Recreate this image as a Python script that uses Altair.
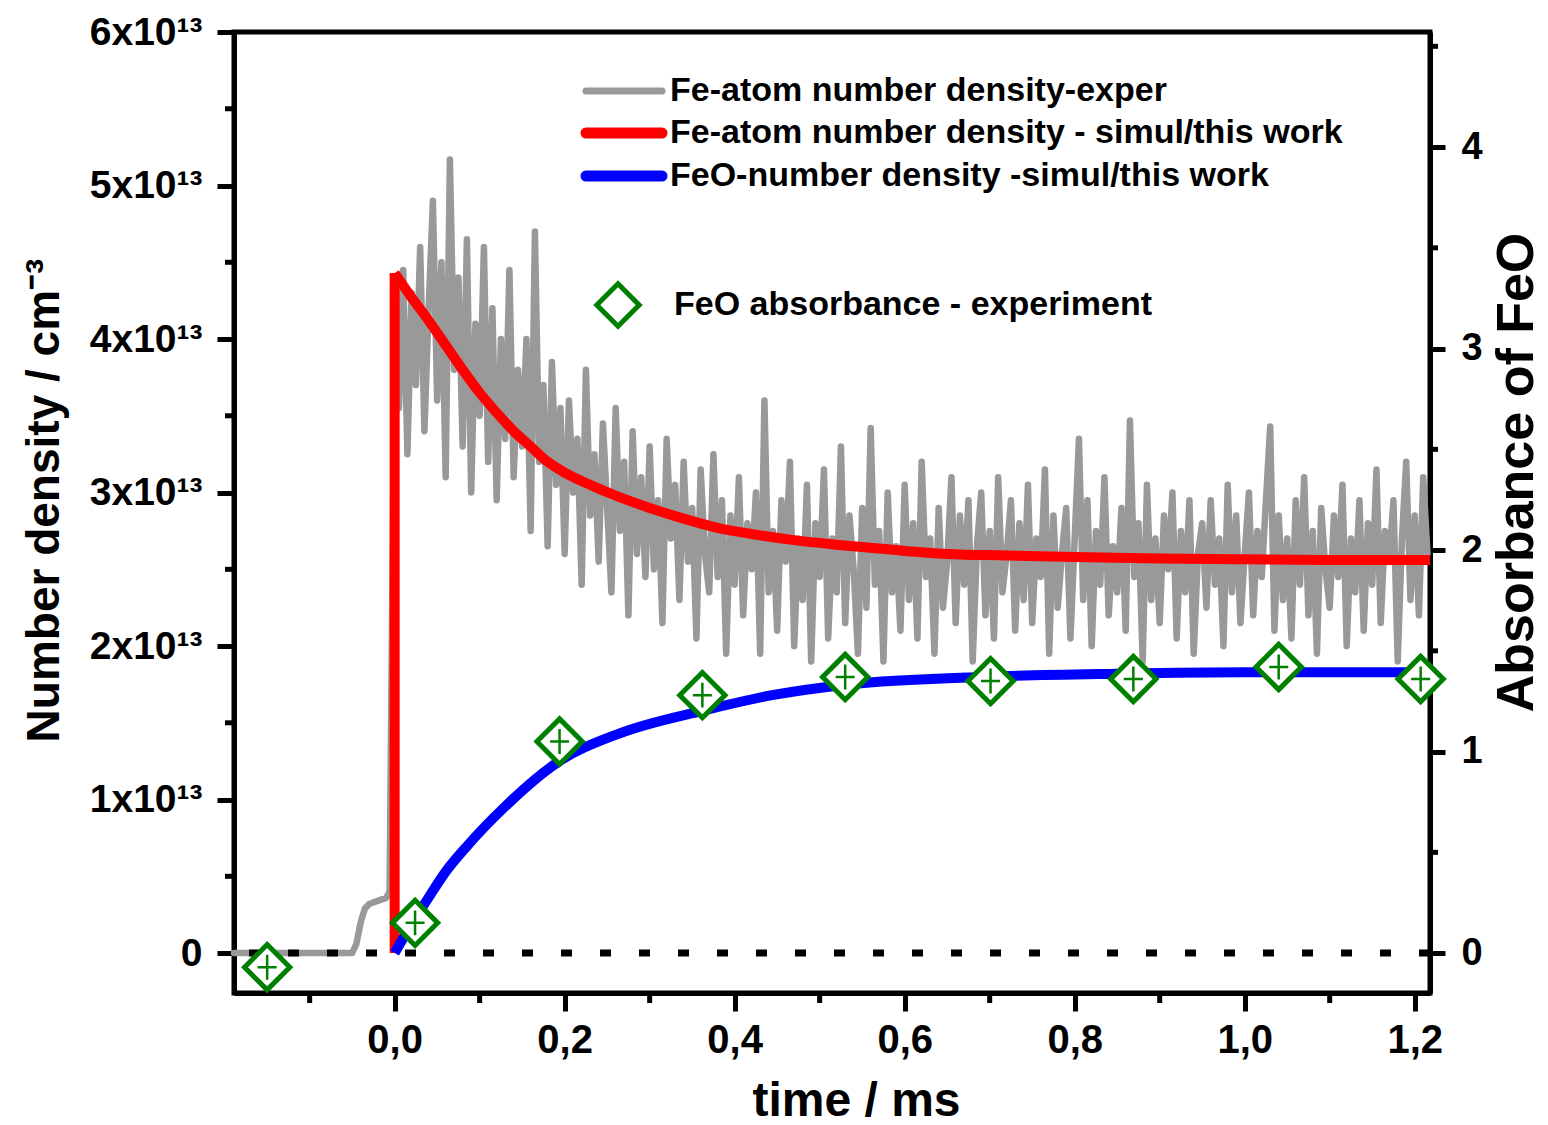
import altair as alt
import pandas as pd

# ---------------- data (number densities in units of 1e13 cm^-3, time in ms) ----------------
# Fe-atom number density, experiment: baseline / pre-trigger part
fe_exp_pre_t = [-0.189, -0.050, -0.045, -0.040, -0.035, -0.030, -0.020, -0.010, -0.006]
fe_exp_pre_v = [0.0, 0.0, 0.06, 0.20, 0.29, 0.32, 0.34, 0.36, 0.40]
# Fe-atom number density, experiment: noisy trace sampled every 5 us from t = 0
fe_exp_t0 = 0.0
fe_exp_dt = 0.005
fe_exp_noise = [
    4.05, 3.55, 4.45, 3.25, 4.30, 3.70, 4.60, 3.40, 4.20, 4.90,
    3.60, 4.50, 3.10, 5.17, 3.80, 4.40, 3.30, 4.65, 3.00, 4.10,
    3.50, 4.60, 3.20, 4.20, 2.95, 4.00, 3.35, 4.45, 3.10, 3.80,
    3.30, 4.00, 2.75, 4.70, 3.20, 3.70, 2.65, 3.85, 3.05, 3.55,
    2.60, 3.60, 3.00, 3.35, 2.40, 3.80, 2.85, 3.25, 2.55, 3.45,
    2.90, 2.35, 3.55, 2.75, 3.20, 2.20, 3.40, 2.60, 3.10, 2.45,
    3.30, 2.50, 2.95, 2.15, 3.35, 2.70, 3.05, 2.30, 3.20, 2.55,
    2.90, 2.05, 3.15, 2.60, 2.35, 3.25, 2.45, 2.95, 1.95, 2.85,
    2.40, 3.10, 2.20, 2.80, 2.50, 3.00, 1.95, 3.60, 2.35, 2.75,
    2.10, 2.95, 2.55, 3.20, 2.00, 2.70, 2.30, 3.05, 1.90, 2.80,
    2.45, 3.15, 2.05, 2.70, 2.35, 3.30, 2.15, 2.85, 2.50, 1.95,
    2.90, 2.25, 3.42, 2.40, 2.75, 1.90, 3.00, 2.35, 2.65, 2.10,
    3.05, 2.30, 2.80, 2.05, 3.20, 2.45, 2.70, 1.95, 2.90, 2.25,
    2.55, 3.10, 2.15, 2.85, 2.40, 2.95, 1.90, 2.65, 3.00, 2.20,
    2.75, 2.05, 3.10, 2.35, 2.60, 2.95, 2.10, 2.80, 2.30, 3.05,
    2.15, 2.70, 2.45, 3.15, 1.95, 2.85, 2.25, 2.60, 2.90, 2.05,
    2.70, 3.35, 2.30, 2.95, 2.00, 2.75, 2.40, 3.10, 2.20, 2.65,
    2.35, 2.90, 2.10, 3.47, 2.45, 2.80, 1.90, 3.05, 2.30, 2.70,
    2.15, 2.85, 2.50, 3.00, 2.05, 2.75, 2.35, 2.95, 1.95, 2.60,
    2.80, 2.25, 2.95, 2.40, 2.70, 2.00, 3.05, 2.35, 2.85, 2.15,
    2.60, 3.00, 2.20, 2.75, 2.45, 2.95, 3.43, 2.10, 2.85, 2.30,
    2.70, 2.05, 2.95, 2.40, 3.10, 2.20, 2.75, 1.95, 2.90, 2.50,
    2.25, 2.85, 2.45, 3.05, 2.00, 2.70, 2.35, 2.95, 2.10, 2.80,
    2.40, 3.15, 2.15, 2.75, 2.55, 2.95, 1.90, 2.70, 3.20, 2.30,
    2.85, 2.20, 3.10, 2.60,
]

# Fe-atom number density, simulation (first point = value before the jump at t = 0)
fe_sim_t = [0.0, 0.0, 0.02, 0.04, 0.06, 0.08, 0.10, 0.12, 0.14, 0.16, 0.18, 0.20,
            0.23, 0.26, 0.30, 0.34, 0.38, 0.42, 0.47, 0.52, 0.58, 0.65, 0.72,
            0.80, 0.90, 1.00, 1.10, 1.218]
fe_sim_v = [0.0, 4.43, 4.27, 4.12, 3.96, 3.80, 3.65, 3.52, 3.40, 3.30, 3.20, 3.13,
            3.05, 2.98, 2.90, 2.83, 2.77, 2.73, 2.69, 2.66, 2.63, 2.60, 2.59,
            2.58, 2.57, 2.565, 2.56, 2.56]

# FeO number density, simulation
feo_sim_t = [0.0, 0.02, 0.038, 0.06, 0.084, 0.129, 0.191, 0.264, 0.363, 0.444,
             0.534, 0.696, 0.85, 1.00, 1.218]
feo_sim_v = [0.0, 0.19, 0.345, 0.53, 0.69, 0.95, 1.24, 1.43, 1.58, 1.68,
             1.75, 1.80, 1.82, 1.83, 1.83]

# FeO absorbance, experiment (right axis)
feo_abs_t = [-0.150, 0.024, 0.194, 0.362, 0.530, 0.701, 0.869, 1.040, 1.207]
feo_abs_v = [-0.07, 0.15, 1.05, 1.28, 1.37, 1.35, 1.36, 1.42, 1.36]

# axis ticks
x_major = [0.0, 0.2, 0.4, 0.6, 0.8, 1.0, 1.2]
x_minor = [-0.1, 0.1, 0.3, 0.5, 0.7, 0.9, 1.1]
y_left_major = [0, 1, 2, 3, 4, 5, 6]
y_left_minor = [0.5, 1.5, 2.5, 3.5, 4.5, 5.5]
y_right_major = [0, 1, 2, 3, 4]
y_right_minor = [0.5, 1.5, 2.5, 3.5, 4.5]

# legend
legend_line_labels = ["Fe-atom number density-exper",
                      "Fe-atom number density - simul/this work",
                      "FeO-number density -simul/this work"]
legend_marker_label = "FeO absorbance - experiment"

# ---------------- styles ----------------
FONT = "Liberation Sans, Arial, sans-serif"
GRAY, RED, BLUE, GREEN = "#999999", "#ff0000", "#0000ff", "#008000"
W, H = 1196, 961

gray_t = fe_exp_pre_t + [round(fe_exp_t0 + i * fe_exp_dt, 4) for i in range(len(fe_exp_noise))]
gray_v = fe_exp_pre_v + fe_exp_noise
gray_df = pd.DataFrame({"t": gray_t, "v": gray_v, "i": list(range(len(gray_t)))})
red_jump_df = pd.DataFrame({"t": [fe_sim_t[0]], "v": [fe_sim_v[0]], "v1": [fe_sim_v[1]]})
red_df = pd.DataFrame({"t": fe_sim_t[1:], "v": fe_sim_v[1:]})
blue_df = pd.DataFrame({"t": feo_sim_t, "v": feo_sim_v})
abs_df = pd.DataFrame({"t": feo_abs_t, "a": feo_abs_v})
zero_df = pd.DataFrame({"v": [0.0]})

x_scale = alt.Scale(domain=[-0.189, 1.218], nice=False, zero=False)
yl_scale = alt.Scale(domain=[-0.26, 6.0], nice=False, zero=False)
yr_scale = alt.Scale(domain=[-0.198, 4.571], nice=False, zero=False)

x_axis = alt.Axis(
    values=x_major,
    labelExpr="replace(format(datum.value, '.1f'), '.', ',')",
    title="time / ms", titleFontSize=48, titleX=622, titleY=122,
    titleAlign="center", titleBaseline="alphabetic",
    labelFontSize=40, labelPadding=9, tickSize=18,
    labelFlush=False, labelOverlap=False, grid=False,
)
yl_axis = alt.Axis(
    orient="left", values=y_left_major,
    labelExpr="datum.value == 0 ? '0' : format(datum.value, 'd') + 'x10\u00b9\u00b3'",
    title="Number density / cm\u207b\u00b3", titleFontSize=46, titleX=-190, titleY=468,
    titleAngle=270, titleAlign="center", titleBaseline="middle",
    labelFontSize=39, labelPadding=15, tickSize=17,
    labelFlush=False, labelOverlap=False, grid=False,
)
yr_axis = alt.Axis(
    orient="right", values=y_right_major,
    labelExpr="format(datum.value, 'd')",
    title="Absorbance of FeO", titleFontSize=52, titleX=86, titleY=440,
    titleAngle=270, titleAlign="center", titleBaseline="middle",
    labelFontSize=38, labelPadding=16, tickSize=15,
    labelFlush=False, labelOverlap=False, grid=False,
)

X = lambda f: alt.X(f, scale=x_scale, axis=x_axis)
YL = lambda f: alt.Y(f, scale=yl_scale, axis=yl_axis)
YR = lambda f: alt.Y(f, scale=yr_scale, axis=yr_axis)

gray = alt.Chart(gray_df).mark_line(color=GRAY, strokeWidth=6.5, strokeJoin="round", strokeCap="round").encode(
    x=X("t:Q"), y=YL("v:Q"), order="i:Q",
)
red_jump = alt.Chart(red_jump_df).mark_rule(color=RED, strokeWidth=10).encode(
    x=X("t:Q"), y=YL("v:Q"), y2="v1:Q",
)
red = alt.Chart(red_df).mark_line(color=RED, strokeWidth=10, strokeJoin="round", interpolate="monotone").encode(
    x=X("t:Q"), y=YL("v:Q"),
)
blue = alt.Chart(blue_df).mark_line(color=BLUE, strokeWidth=10, strokeJoin="round", interpolate="monotone").encode(
    x=X("t:Q"), y=YL("v:Q"),
)
zero = alt.Chart(zero_df).mark_rule(color="black", strokeWidth=7, strokeDash=[11, 28]).encode(
    y=YL("v:Q"),
)
# minor ticks (left and bottom)
yl_minor_ticks = alt.Chart(pd.DataFrame({"v": y_left_minor})).mark_rule(color="black", strokeWidth=5).encode(
    y=YL("v:Q"), x=alt.value(-9), x2=alt.value(0),
)
x_minor_ticks = alt.Chart(pd.DataFrame({"t": x_minor})).mark_rule(color="black", strokeWidth=5).encode(
    x=X("t:Q"), y=alt.value(H), y2=alt.value(H + 10),
)

markers = alt.Chart(abs_df).mark_point(shape="diamond", size=2050, filled=True, fill="white",
                                       stroke=GREEN, strokeWidth=5, opacity=1).encode(
    x=X("t:Q"), y=YR("a:Q"),
)
crosses = alt.Chart(abs_df).mark_point(shape="M0,-0.55L0,0.55M-0.42,0L0.42,0", size=2050, filled=False,
                                       stroke=GREEN, strokeWidth=2.5, opacity=1).encode(
    x=X("t:Q"), y=YR("a:Q"),
)
yr_minor_ticks = alt.Chart(pd.DataFrame({"a": y_right_minor})).mark_rule(color="black", strokeWidth=5).encode(
    y=YR("a:Q"), x=alt.value(W), x2=alt.value(W + 8),
)

left = alt.layer(gray, red_jump, red, blue, zero, yl_minor_ticks, x_minor_ticks)
right = alt.layer(markers, crosses, yr_minor_ticks)

# manual legend
legend_layers = []
leg_y = [59, 101, 144]
leg_colors = [GRAY, RED, BLUE]
leg_widths = [7, 11, 11]
for lab, yy, col, w in zip(legend_line_labels, leg_y, leg_colors, leg_widths):
    d = pd.DataFrame({"label": [lab]})
    legend_layers.append(
        alt.Chart(d).mark_rule(color=col, strokeWidth=w, strokeCap="round").encode(
            x=alt.value(352), x2=alt.value(428), y=alt.value(yy))
    )
    legend_layers.append(
        alt.Chart(d).mark_text(align="left", baseline="middle", fontSize=34, fontWeight="bold",
                               font=FONT, color="black").encode(
            x=alt.value(436), y=alt.value(yy), text="label:N")
    )
dm = pd.DataFrame({"label": [legend_marker_label]})
legend_layers.append(
    alt.Chart(dm).mark_point(shape="diamond", size=1800, filled=True, fill="white",
                             stroke=GREEN, strokeWidth=5, opacity=1).encode(
        x=alt.value(384), y=alt.value(273))
)
legend_layers.append(
    alt.Chart(dm).mark_text(align="left", baseline="middle", fontSize=34, fontWeight="bold",
                            font=FONT, color="black").encode(
        x=alt.value(440), y=alt.value(273), text="label:N")
)

chart = alt.layer(left, right, *legend_layers).resolve_scale(y="independent").properties(
    width=W, height=H,
    autosize=alt.AutoSizeParams(type="none"),
    padding={"left": 234, "top": 32, "right": 118, "bottom": 132},
    background="white",
).configure_view(
    stroke="black", strokeWidth=5,
).configure_axis(
    domainColor="black", domainWidth=5, tickColor="black", tickWidth=5,
    labelFont=FONT, labelFontWeight="bold", labelColor="black",
    titleFont=FONT, titleFontWeight="bold", titleColor="black",
)

chart.save("out.html", embed_options={"renderer": "svg", "actions": False})
